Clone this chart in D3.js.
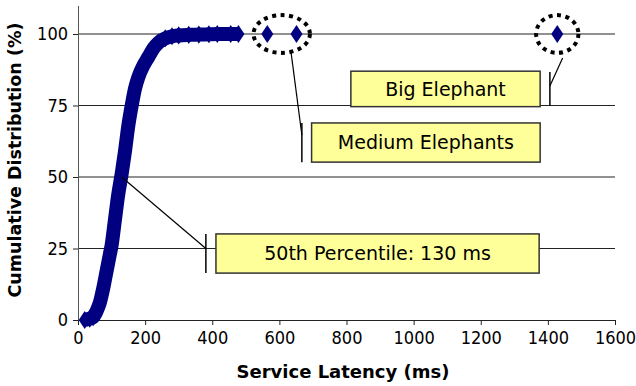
<!DOCTYPE html>
<html>
<head>
<meta charset="utf-8">
<script src="https://cdn.jsdelivr.net/npm/d3@7"></script>
<style>
  body { margin: 0; background: #fff; }
</style>
</head>
<body>
<svg id="chart" width="636" height="386"></svg>
<script>
// CDF of service latency (ms, cumulative %)
let latency = [20, 35, 45, 55, 65, 75, 85, 95, 100, 110, 120, 130, 140, 150, 160, 170, 180, 195, 210, 225, 240, 260, 280, 300, 330, 360, 390, 415, 455, 478]
let cumPct  = [0, 0.5, 1, 3, 6, 11, 17, 23, 26, 35, 44, 51, 59, 68, 75, 81, 85, 89, 92, 95, 97, 98.5, 99.2, 99.5, 99.7, 99.8, 99.9, 100, 100, 100]
// outliers
let elephantX = [564, 651, 1428]
let elephantY = [100, 100, 100]

let xTicks = [0, 200, 400, 600, 800, 1000, 1200, 1400, 1600]
let yTicks = [0, 25, 50, 75, 100]

// callouts: label, box [x0,x1,y0,y1] in data units, leader from -> elbow, bar at elbow x
let noteText = ["50th Percentile: 130 ms", "Medium Elephants", "Big Elephant"]
let noteBox  = [[411, 1374, 16.4, 30.1], [696, 1377, 55.2, 68.9], [813, 1377, 74.6, 87]]
let noteFrom = [[130, 50], [635, 93.4], [1444, 91.6]]
let noteElbow = [[381, 25], [667, 64.7], [1406, 81.8]]
let noteBar  = [[16.4, 30.1], [55.2, 68.9], [74.8, 86.7]]

// dotted rings round the elephants: centre x, rx/ry in data units
let ringX  = [607, 1428]
let ringRx = [84, 63]
let ringRy = [6.6, 6.6]

const sans = "'DejaVu Sans', sans-serif"
const cond = "'DejaVu Sans Condensed', 'DejaVu Sans', sans-serif"

let svg = d3.select("#chart")
let xScale = d3.scaleLinear().domain([0, 1600]).range([78, 615])
let yScale = d3.scaleLinear().domain([0, 110]).range([320, 5.4])

// gridlines
svg.append("g").selectAll("line")
    .data(yTicks.filter(d => d > 0))
    .enter().append("line")
    .attr("x1", xScale(0)).attr("x2", xScale(1600))
    .attr("y1", d => yScale(d)).attr("y2", d => yScale(d))
    .attr("stroke", "#222").attr("stroke-width", 1)

// axes
let xAxis = d3.axisBottom(xScale).tickValues(xTicks).tickFormat(d3.format("d"))
    .tickSize(5).tickSizeOuter(0).tickPadding(6)
let yAxis = d3.axisLeft(yScale).tickValues(yTicks).tickFormat(d3.format("d"))
    .tickSize(5).tickSizeOuter(0).tickPadding(5)
let gx = svg.append("g").attr("transform", `translate(0,${yScale(0)})`).call(xAxis)
let gy = svg.append("g").attr("transform", `translate(${xScale(0)},0)`).call(yAxis)
gx.select(".domain").attr("stroke", "#222")
gy.select(".domain").attr("stroke", "#555")
svg.selectAll(".tick line").attr("stroke", "#222")
gx.attr("font-family", cond).attr("font-size", 18)
gy.attr("font-family", cond).attr("font-size", 18)
svg.selectAll(".tick text").attr("fill", "#000")

// axis titles
svg.append("text")
    .attr("x", 343).attr("y", 378)
    .attr("text-anchor", "middle")
    .attr("font-family", sans).attr("font-size", 18).attr("font-weight", "bold")
    .text("Service Latency (ms)")
svg.append("text")
    .attr("transform", `translate(21,160) rotate(-90)`)
    .attr("text-anchor", "middle")
    .attr("font-family", sans).attr("font-size", 17.5).attr("font-weight", "bold")
    .text("Cumulative Distribution (%)")

// CDF band: thick line plus diamond markers
let pts = latency.map((d, i) => [d, cumPct[i]])
svg.append("path")
    .datum(pts)
    .attr("d", d3.line().x(d => xScale(d[0])).y(d => yScale(d[1])).curve(d3.curveMonotoneX))
    .attr("fill", "none").attr("stroke", "#000080")
    .attr("stroke-width", 14).attr("stroke-linejoin", "round")

let diamond = d3.symbol().type(d3.symbolDiamond).size(95)
svg.append("g").selectAll("path")
    .data(pts.concat(elephantX.map((d, i) => [d, elephantY[i]])))
    .enter().append("path")
    .attr("d", diamond)
    .attr("transform", d => `translate(${xScale(d[0])},${yScale(d[1])}) scale(1.15,1)`)
    .attr("fill", "#000080")

// dotted rings
svg.append("g").selectAll("ellipse")
    .data(ringX)
    .enter().append("ellipse")
    .attr("cx", d => xScale(d)).attr("cy", yScale(100))
    .attr("rx", (d, i) => xScale(ringRx[i]) - xScale(0))
    .attr("ry", (d, i) => yScale(0) - yScale(ringRy[i]))
    .attr("fill", "none").attr("stroke", "#000")
    .attr("stroke-width", 4).attr("stroke-dasharray", "4 4.5")

// callouts
let notes = svg.append("g").selectAll("g")
    .data(noteText)
    .enter().append("g")
notes.append("polyline")
    .attr("points", (d, i) => [noteFrom[i], noteElbow[i]].map(p => `${xScale(p[0])},${yScale(p[1])}`).join(" "))
    .attr("fill", "none").attr("stroke", "#000").attr("stroke-width", 1.2)
notes.append("line")
    .attr("x1", (d, i) => xScale(noteElbow[i][0])).attr("x2", (d, i) => xScale(noteElbow[i][0]))
    .attr("y1", (d, i) => yScale(noteBar[i][0])).attr("y2", (d, i) => yScale(noteBar[i][1]))
    .attr("stroke", "#000").attr("stroke-width", 1.5)
notes.append("rect")
    .attr("x", (d, i) => xScale(noteBox[i][0]))
    .attr("y", (d, i) => yScale(noteBox[i][3]))
    .attr("width", (d, i) => xScale(noteBox[i][1]) - xScale(noteBox[i][0]))
    .attr("height", (d, i) => yScale(noteBox[i][2]) - yScale(noteBox[i][3]))
    .attr("fill", "#ffff99").attr("stroke", "#333").attr("stroke-width", 1.5)
notes.append("text")
    .attr("x", (d, i) => (xScale(noteBox[i][0]) + xScale(noteBox[i][1])) / 2)
    .attr("y", (d, i) => (yScale(noteBox[i][2]) + yScale(noteBox[i][3])) / 2)
    .attr("dy", "0.36em")
    .attr("text-anchor", "middle")
    .attr("font-family", sans).attr("font-size", 19)
    .text(d => d)
</script>
</body>
</html>
